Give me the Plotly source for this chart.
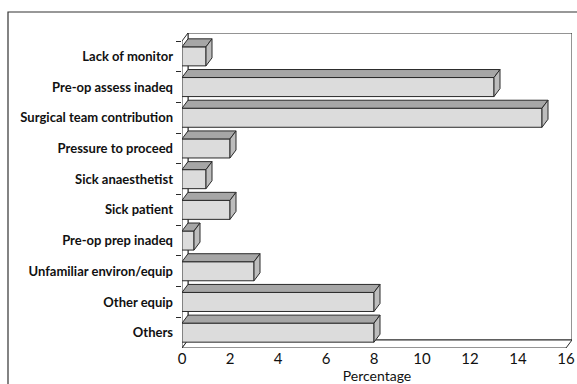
import plotly.graph_objects as go

categories = ["Lack of monitor", "Pre-op assess inadeq", "Surgical team contribution",
              "Pressure to proceed", "Sick anaesthetist", "Sick patient",
              "Pre-op prep inadeq", "Unfamiliar environ/equip", "Other equip", "Others"]
values = [1, 13, 15, 2, 1, 2, 0.5, 3, 8, 8]
x_ticks = [0, 2, 4, 6, 8, 10, 12, 14, 16]
x_title = "Percentage"

W, H = 577, 384
ML, MR, MT, MB = 182, 5, 33, 36
XMAX = 16
PW = W - ML - MR
PH = H - MT - MB
px_x = (566 - 182) / XMAX
DX = PW / px_x - XMAX            # depth in x units
n = len(categories)
px_y = (PH - 8) / n
DY = 8 / px_y                      # depth in category units
BW = 0.62

pos = list(range(n))

FONT = "Lato"
EDGE = "#2a2a2a"

fig = go.Figure()

# top and side faces of the 3D bars
tx, ty, sx, sy = [], [], [], []
for p, v in zip(pos, values):
    t = p - BW / 2
    b = p + BW / 2
    tx += [0, v, v + DX, DX, 0, None]
    ty += [t, t, t - DY, t - DY, t, None]
    sx += [v, v, v + DX, v + DX, v, None]
    sy += [t, b, b - DY, t - DY, t, None]

fig.add_trace(go.Bar(x=values, y=pos, orientation="h", width=BW,
                     marker=dict(color="#dcdcdc", line=dict(color=EDGE, width=1)),
                     hoverinfo="skip", showlegend=False))
fig.add_trace(go.Scatter(x=tx, y=ty, mode="lines", fill="toself", fillcolor="#a6a6a6",
                         line=dict(color=EDGE, width=1), hoverinfo="skip", showlegend=False))
fig.add_trace(go.Scatter(x=sx, y=sy, mode="lines", fill="toself", fillcolor="#bdbdbd",
                         line=dict(color=EDGE, width=1), hoverinfo="skip", showlegend=False))

ytop = -0.5
ybot = n - 0.5
shapes = [
    # back wall
    dict(type="rect", xref="x", yref="y", x0=DX, x1=XMAX + DX, y0=ytop - DY, y1=ybot - DY,
         line=dict(color=EDGE, width=1), fillcolor="white", layer="below"),
    # left wall
    dict(type="path", xref="x", yref="y",
         path=f"M 0 {ytop} L {DX} {ytop - DY} L {DX} {ybot - DY} L 0 {ybot} Z",
         line=dict(color=EDGE, width=1), fillcolor="white", layer="below"),
    # floor
    dict(type="path", xref="x", yref="y",
         path=f"M 0 {ybot} L {XMAX} {ybot} L {XMAX + DX} {ybot - DY} L {DX} {ybot - DY} Z",
         line=dict(color=EDGE, width=1), fillcolor="white", layer="below"),
    # outer frame
    dict(type="rect", xref="paper", yref="paper",
         x0=(8 - ML) / PW, x1=(W + 10 - ML) / PW,
         y0=-(H + 10 - (H - MB)) / PH, y1=1 + (MT - 12) / PH,
         line=dict(color="#333", width=1.2), fillcolor="rgba(0,0,0,0)", layer="below"),
]

fig.update_layout(
    width=W, height=H,
    margin=dict(l=ML, r=MR, t=MT, b=MB, autoexpand=False),
    paper_bgcolor="white", plot_bgcolor="rgba(0,0,0,0)",
    shapes=shapes,
    font=dict(family=FONT, color="#111"),
    xaxis=dict(range=[0, XMAX + DX], tickvals=x_ticks, ticktext=[str(t) for t in x_ticks],
               showgrid=False, zeroline=False, showline=False, ticks="", automargin=False,
               tickfont=dict(size=15, family=FONT, color="#111"),
               title=dict(text=x_title, font=dict(size=14, family=FONT, color="#111"), standoff=0),
               fixedrange=True),
    yaxis=dict(range=[ybot, ytop - DY], tickvals=pos, ticktext=categories,
               showgrid=False, zeroline=False, showline=False, ticks="", automargin=False,
               tickfont=dict(size=13, family=FONT, color="#111", weight="bold"),
               ticklabelstandoff=8,
               minor=dict(tickvals=[p - 0.5 for p in pos], ticks="outside", ticklen=5,
                          tickcolor=EDGE, tickwidth=1, showgrid=False),
               fixedrange=True),
)

fig.write_html("out.html", config={"displayModeBar": False},
               post_script="document.body.style.margin='0px';document.body.style.overflow='hidden';")
